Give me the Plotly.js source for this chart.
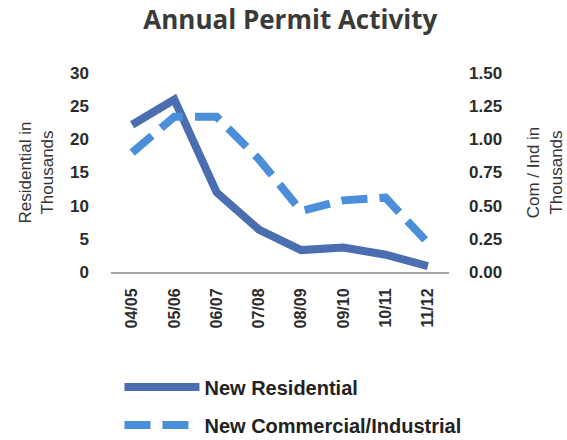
<!DOCTYPE html>
<html>
<head>
<meta charset="utf-8">
<script src="https://cdn.plot.ly/plotly-3.0.1.min.js"></script>
<style>html,body{margin:0;padding:0;background:#fff;}#chart{width:567px;height:440px;}</style>
</head>
<body>
<div id="chart"></div>
<script>
var years = ["04/05", "05/06", "06/07", "07/08", "08/09", "09/10", "10/11", "11/12"];
var residential = [22.2, 26.0, 12.0, 6.4, 3.3, 3.7, 2.6, 0.9];
var commercial = [0.90, 1.17, 1.17, 0.85, 0.46, 0.54, 0.56, 0.22];
var leftTicks = [0, 5, 10, 15, 20, 25, 30];
var rightTicks = [0, 0.25, 0.5, 0.75, 1.0, 1.25, 1.5];
var rightTickText = ["0.00", "0.25", "0.50", "0.75", "1.00", "1.25", "1.50"];

var yTickFont = {family: "Liberation Sans, Arial, sans-serif", size: 17, color: "#2b2b2b", weight: "bold"};
var xTickFont = {family: "Liberation Sans, Arial, sans-serif", size: 16, color: "#2b2b2b", weight: "bold"};
var axTitleFont = {family: "Liberation Sans, Arial, sans-serif", size: 17, color: "#333"};

var traces = [
  {
    x: years, y: residential, name: "New Residential", type: "scatter", mode: "lines",
    line: {color: "#4a6eb0", width: 8}, legendgroup: "a", yaxis: "y"
  },
  {
    x: years, y: commercial, name: "New Commercial/Industrial", type: "scatter", mode: "lines",
    line: {color: "#4b8fdb", width: 8, dash: "26px,12px"}, legendgroup: "b", yaxis: "y2"
  }
];

var layout = {
  width: 567, height: 440,
  margin: {l: 111, r: 118, t: 73, b: 168, autoexpand: false},
  paper_bgcolor: "#ffffff", plot_bgcolor: "#ffffff",
  title: {
    text: "<b>Annual Permit Activity</b>",
    font: {family: "Open Sans, sans-serif", size: 26, color: "#3a3a3a"},
    x: 0.512, xref: "container", xanchor: "center",
    y: 0.955, yref: "container", yanchor: "middle", automargin: false
  },
  showlegend: true,
  legend: {
    x: 0.025, xanchor: "left", y: -0.48, yanchor: "top",
    orientation: "v", traceorder: "grouped", tracegroupgap: 9,
    itemwidth: 75, bgcolor: "rgba(0,0,0,0)", borderwidth: 0,
    font: {family: "Liberation Sans, Arial, sans-serif", size: 20, color: "#222", weight: "bold"}
  },
  xaxis: {
    type: "category", range: [-0.5, 7.5], automargin: false,
    showline: true, linecolor: "#a6a6a6", linewidth: 2,
    showgrid: false, zeroline: false, ticks: "", tickangle: -90,
    tickfont: xTickFont, ticklabelstandoff: 8
  },
  yaxis: {
    range: [0, 30], tickvals: leftTicks, showgrid: false, zeroline: false, automargin: false,
    showline: false, ticks: "", tickfont: yTickFont, ticklabelstandoff: 21,
    title: {text: "Residential in<br>Thousands", font: axTitleFont, standoff: 12}
  },
  yaxis2: {
    range: [0, 1.5], overlaying: "y", side: "right", automargin: false,
    tickvals: rightTicks, ticktext: rightTickText, showgrid: false, zeroline: false,
    showline: false, ticks: "", tickfont: yTickFont, ticklabelstandoff: 19,
    title: {text: "Com / Ind in<br>Thousands", font: axTitleFont, standoff: 26}
  }
};

Plotly.newPlot("chart", traces, layout, {displayModeBar: false, staticPlot: true});
</script>
</body>
</html>
